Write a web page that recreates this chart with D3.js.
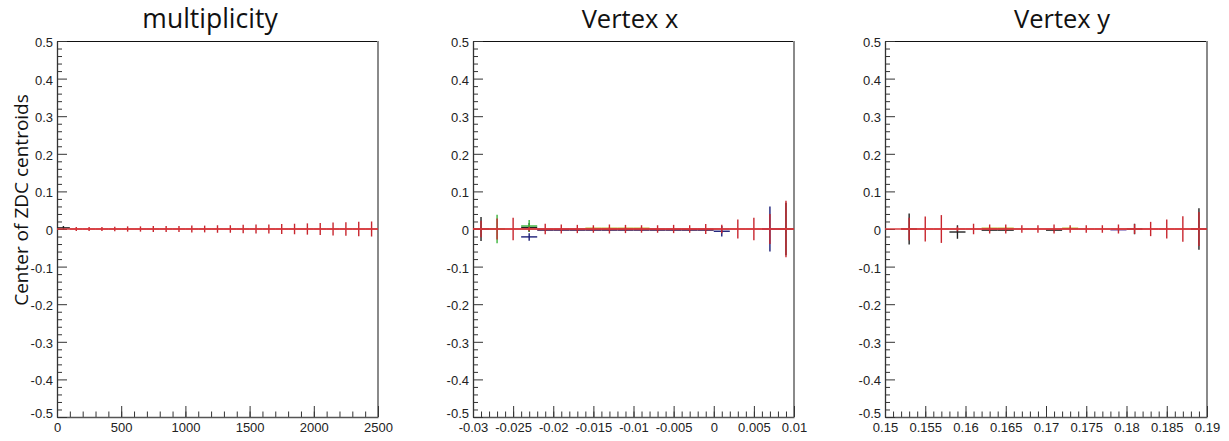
<!DOCTYPE html>
<html><head><meta charset="utf-8">
<script src="https://cdn.jsdelivr.net/npm/d3@7"></script>
<style>
html,body{margin:0;padding:0;background:#fff;}
svg{display:block;}
.tick text{font-family:"Liberation Sans",Arial,sans-serif;font-size:13px;fill:#222;}
</style></head>
<body>
<svg id="c" width="1229" height="441"></svg>
<script>
// ---------- data ----------
const titles = ["multiplicity", "Vertex x", "Vertex y"];
const yTitle = "Center of ZDC centroids";
const yTicks = [-0.5,-0.4,-0.3,-0.2,-0.1,0,0.1,0.2,0.3,0.4,0.5];
const yTickLabels = ["-0.5","-0.4","-0.3","-0.2","-0.1","0","0.1","0.2","0.3","0.4","0.5"];

const multTickLabels = ["0","500","1000","1500","2000","2500"];
const vxTickLabels = ["-0.03","-0.025","-0.02","-0.015","-0.01","-0.005","0","0.005","0.01"];
const vyTickLabels = ["0.15","0.155","0.16","0.165","0.17","0.175","0.18","0.185","0.19"];

// multiplicity panel
const multX = [50,150,250,350,450,550,650,750,850,950,1050,1150,1250,1350,1450,1550,1650,1750,1850,1950,2050,2150,2250,2350,2450];
const multRedY = [null,0,0,0,0,0,0,0,0,0,0,0,0,0,0,0,0,0,0,0,0,0,0,0,0];
const multRedErr = [null,0.005,0.005,0.005,0.006,0.007,0.007,0.008,0.008,0.008,0.009,0.009,0.010,0.010,0.011,0.012,0.012,0.013,0.014,0.015,0.016,0.017,0.018,0.019,0.020];
const multBlackY = [0.003,null,null,null,null,null,null,null,null,null,null,null,null,null,null,null,null,null,null,null,null,null,null,null,null];
const multBlackErr = [0.005,null,null,null,null,null,null,null,null,null,null,null,null,null,null,null,null,null,null,null,null,null,null,null,null];

// vertex x panel
const vxX = [-0.029,-0.027,-0.025,-0.023,-0.021,-0.019,-0.017,-0.015,-0.013,-0.011,-0.009,-0.007,-0.005,-0.003,-0.001,0.001,0.003,0.005,0.007,0.009];
const vxRedY =   [0,0,0,0,0,0,0,0,0,0,0,0,0,0,0,0,0,0,0,0];
const vxRedErr = [0.022,0.028,0.03,0.006,0.014,0.012,0.011,0.01,0.012,0.011,0.01,0.01,0.011,0.01,0.013,0.011,0.025,0.03,0.04,0.075];
const vxBlackY =   [0,null,null,0.004,null,null,null,null,null,null,null,null,null,null,null,null,null,null,null,0];
const vxBlackErr = [0.032,null,null,0.012,null,null,null,null,null,null,null,null,null,null,null,null,null,null,null,0.07];
const vxGreenY =   [null,0,null,0.008,null,null,null,null,null,null,null,null,null,null,null,null,null,null,null,null];
const vxGreenErr = [null,0.038,null,0.016,null,null,null,null,null,null,null,null,null,null,null,null,null,null,null,null];
const vxBlueY =   [null,null,null,-0.021,null,null,null,null,null,null,null,null,null,null,null,-0.006,null,null,0,null];
const vxBlueErr = [null,null,null,0.01,null,null,null,null,null,null,null,null,null,null,null,0.014,null,null,0.06,null];
const vxNavyY =   [null,null,null,null,-0.002,-0.002,-0.002,-0.002,-0.002,-0.002,-0.002,-0.002,-0.002,-0.002,-0.002,null,null,null,null,null];
const vxNavyErr = [null,null,null,null,0.002,0.002,0.002,0.002,0.002,0.002,0.002,0.002,0.002,0.002,0.002,null,null,null,null,null];
const vxYellowY =   [null,null,null,null,null,null,null,0.002,0.002,0.002,0.002,null,null,null,null,null,null,null,null,null];
const vxYellowErr = [null,null,null,null,null,null,null,0.002,0.002,0.002,0.002,null,null,null,null,null,null,null,null,null];

// vertex y panel
const vyX = [0.153,0.155,0.157,0.159,0.161,0.163,0.165,0.167,0.169,0.171,0.173,0.175,0.177,0.179,0.181,0.183,0.185,0.187,0.189];
const vyRedY =   [0,0,0,0,0,0,0,0,0,0,0,0,0,0,0,0,0,0,0];
const vyRedErr = [0.03,0.033,0.037,0.006,0.014,0.012,0.012,0.01,0.01,0.012,0.01,0.01,0.01,0.012,0.013,0.019,0.025,0.034,0.045];
const vyBlackY =   [0,null,null,-0.008,null,-0.003,-0.003,null,null,-0.003,null,null,null,null,0,null,null,null,0];
const vyBlackErr = [0.041,null,null,0.018,null,0.003,0.003,null,null,0.003,null,null,null,null,0.014,null,null,null,0.055];
const vyYellowY =   [null,null,null,null,null,0.002,0.002,null,null,null,0.002,null,null,null,null,null,null,null,null];
const vyYellowErr = [null,null,null,null,null,0.002,0.002,null,null,null,0.002,null,null,null,null,null,null,null,null];
const vyLilacY =   [null,null,null,null,null,null,null,null,null,null,null,null,null,-0.003,null,null,null,null,null];
const vyLilacErr = [null,null,null,null,null,null,null,null,null,null,null,null,null,0.003,null,null,null,null,null];

// ---------- drawing ----------
const svg = d3.select("#c");
const yTop = 41, yBottom = 417;
const colors = {red:"#c8262e", black:"#222222", blue:"#1c1f78", green:"#3cb43c", yellow:"#b8b41e", navy:"#4a2a60", lilac:"#9a8ac8"};

const panels = [
  {x0:57, x1:378, dom:[0,2500], labels:multTickLabels, minorStep:100, binW:100, xs:multX,
   series:[["black",multBlackY,multBlackErr],["red",multRedY,multRedErr]], title:titles[0], tx:210, fs:26.5},
  {x0:473, x1:794, dom:[-0.03,0.01], labels:vxTickLabels, minorStep:0.001, binW:0.002, xs:vxX,
   series:[["black",vxBlackY,vxBlackErr],["green",vxGreenY,vxGreenErr],["blue",vxBlueY,vxBlueErr],["navy",vxNavyY,vxNavyErr],["yellow",vxYellowY,vxYellowErr],["red",vxRedY,vxRedErr]], title:titles[1], tx:630, fs:25.5},
  {x0:885, x1:1207, dom:[0.15,0.19], labels:vyTickLabels, minorStep:0.001, binW:0.002, xs:vyX,
   series:[["black",vyBlackY,vyBlackErr],["yellow",vyYellowY,vyYellowErr],["lilac",vyLilacY,vyLilacErr],["red",vyRedY,vyRedErr]], title:titles[2], tx:1062, fs:25.5}
];

const y = d3.scaleLinear().domain([-0.5,0.5]).range([yBottom, yTop]);
const yMinor = d3.range(-25,26).map(i=>i*0.02).filter(v=>Math.abs(Math.round(v*10)-v*10)>1e-6);

panels.forEach(p=>{
  const x = d3.scaleLinear().domain(p.dom).range([p.x0,p.x1]);
  const g = svg.append("g");

  g.append("line").attr("x1",p.x0).attr("x2",p.x1).attr("y1",yTop+0.5).attr("y2",yTop+0.5).attr("stroke","#111").attr("stroke-width",1.2);
  g.append("line").attr("x1",p.x1).attr("x2",p.x1).attr("y1",yTop).attr("y2",yBottom).attr("stroke","#8a8a8a").attr("stroke-width",2);

  const [a,b] = p.dom;
  const n = Math.round((b-a)/p.minorStep);
  const xMinor = d3.range(0,n+1).map(i=>a+i*p.minorStep);
  g.append("g").attr("transform",`translate(0,${yBottom})`)
    .call(d3.axisBottom(x).tickValues(xMinor).tickSizeInner(-5.5).tickSizeOuter(0).tickFormat(""))
    .call(s=>s.select(".domain").remove())
    .selectAll("line").attr("stroke","#333");
  const xAxis = g.append("g").attr("transform",`translate(0,${yBottom})`)
    .call(d3.axisBottom(x).tickValues(p.labels.map(Number)).tickSizeInner(-11).tickSizeOuter(0).tickPadding(6).tickFormat((d,i)=>p.labels[i]));
  xAxis.select(".domain").attr("stroke","#555").attr("stroke-width",1.3);
  xAxis.selectAll("line").attr("stroke","#333");

  g.append("g").attr("transform",`translate(${p.x0},0)`)
    .call(d3.axisLeft(y).tickValues(yMinor).tickSizeInner(-5).tickSizeOuter(0).tickFormat(""))
    .call(s=>s.select(".domain").remove())
    .selectAll("line").attr("stroke","#333");
  const yAxis = g.append("g").attr("transform",`translate(${p.x0},0)`)
    .call(d3.axisLeft(y).tickValues(yTicks).tickSizeInner(-10).tickSizeOuter(0).tickPadding(4).tickFormat((d,i)=>yTickLabels[i]));
  yAxis.select(".domain").attr("stroke","#333").attr("stroke-width",1.3);
  yAxis.selectAll("line").attr("stroke","#333");
  yAxis.selectAll("text").attr("dy",(d,i)=> i===0 ? "0.05em" : "0.42em");

  p.series.forEach(([c,ys,es])=>{
    const pts = p.xs.map((xv,i)=>({x:xv,y:ys[i],e:es[i]})).filter(d=>d.y!==null);
    const sg = g.append("g").attr("stroke",colors[c]).attr("stroke-width",c==="navy"?2.2:1.4);
    sg.selectAll(".h").data(pts).join("line").attr("class","h")
      .attr("x1",d=>x(d.x-p.binW/2)).attr("x2",d=>x(d.x+p.binW/2))
      .attr("y1",d=>y(d.y)).attr("y2",d=>y(d.y));
    sg.selectAll(".v").data(pts).join("line").attr("class","v")
      .attr("x1",d=>x(d.x)).attr("x2",d=>x(d.x))
      .attr("y1",d=>y(d.y-d.e)).attr("y2",d=>y(d.y+d.e));
  });

  g.append("line").attr("x1",p.x0).attr("x2",p.x1).attr("y1",y(0)).attr("y2",y(0))
    .attr("stroke","#d8383c").attr("stroke-width",1.5);

  svg.append("text").attr("x",p.tx).attr("y",28).attr("text-anchor","middle")
    .style("font-family","'Open Sans',sans-serif").style("font-size",p.fs+"px").style("fill","#111")
    .text(p.title);
});

svg.append("text").attr("transform","translate(28,200) rotate(-90)").attr("text-anchor","middle")
  .style("font-family","'Open Sans',sans-serif").style("font-size","19px").style("fill","#111")
  .text(yTitle);
</script>
</body></html>
